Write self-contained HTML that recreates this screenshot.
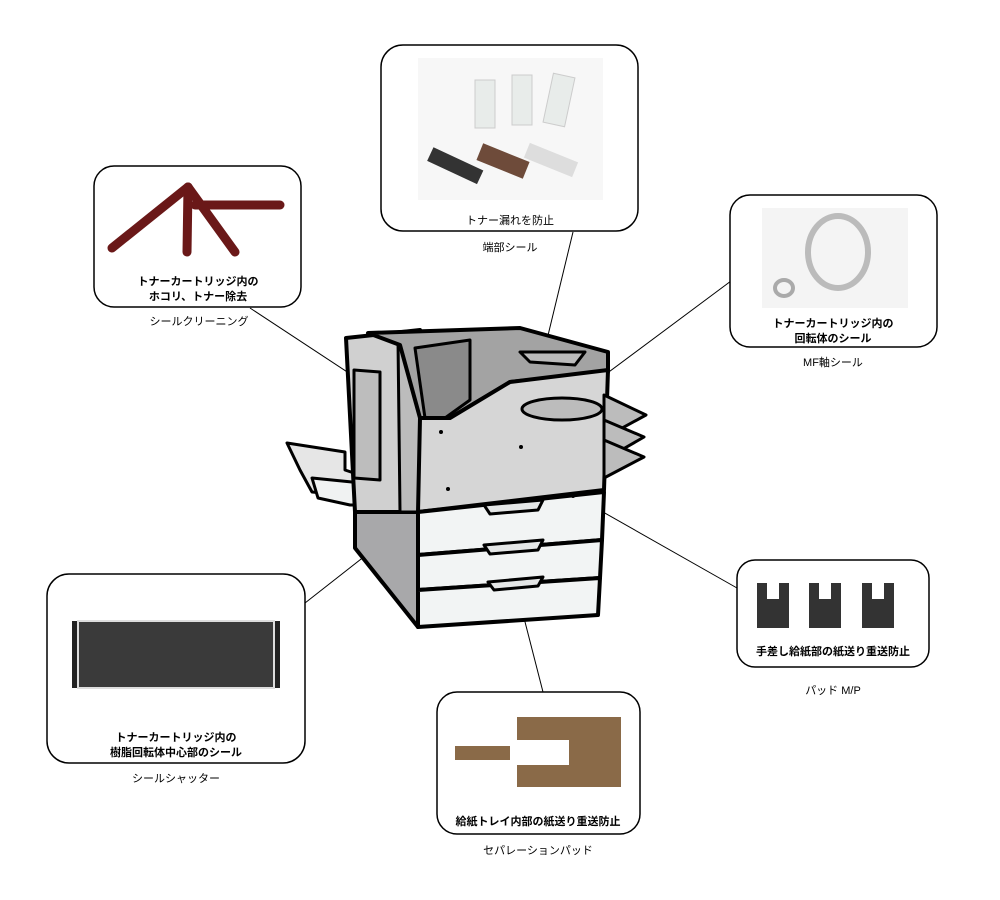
<!DOCTYPE html>
<html><head><meta charset="utf-8"><style>
html,body{margin:0;padding:0;background:#fff;}
svg{display:block;font-family:"Liberation Sans","Noto Sans CJK JP",sans-serif;}
.b{font-size:11px;font-weight:bold;fill:#000;text-anchor:middle;}
.l{font-size:11px;fill:#000;text-anchor:middle;}
</style></head><body>
<svg width="1000" height="900" viewBox="0 0 1000 900" xmlns="http://www.w3.org/2000/svg">
<!-- connectors -->
<g stroke="#000" stroke-width="1" fill="none">
<line x1="250" y1="308" x2="440" y2="433"/>
<line x1="573" y1="232" x2="521" y2="447"/>
<line x1="731" y1="281" x2="547" y2="418"/>
<line x1="305" y1="603" x2="449" y2="490"/>
<line x1="737" y1="588" x2="573" y2="495"/>
<line x1="543" y1="692" x2="514" y2="579"/>
</g>
<!-- printer -->
<g stroke="#000" stroke-width="4" stroke-linejoin="round">
<!-- base left side -->
<polygon points="355,500 418,505 418,627 355,548" fill="#a8a8aa"/>
<!-- left tray -->
<polygon points="287,443 345,452 345,470 360,475 372,482 372,497 345,495 312,492 300,470" fill="#e6e6e6" stroke-width="3"/>
<polygon points="312,478 372,484 390,505 350,505 318,498" fill="#f0f2f2" stroke-width="3"/>
<!-- left column -->
<polygon points="346,338 420,330 420,512 355,512" fill="#d0d0d0"/>
<polygon points="354,370 380,372 380,480 354,478" fill="#bdbdbd" stroke-width="3"/>
<polygon points="398,340 420,345 420,512 400,512" fill="#bcbcbc" stroke-width="3"/>
<!-- top cover -->
<polygon points="368,333 520,328 608,352 608,372 510,382 450,418 420,418 400,345" fill="#a3a3a3"/>
<polygon points="415,348 470,340 470,400 445,418 425,418" fill="#8a8a8a" stroke-width="3"/>
<polygon points="520,352 585,352 575,365 530,362" fill="#bbb" stroke-width="3"/>
<!-- front face -->
<polygon points="420,418 450,418 510,382 608,370 604,490 418,512" fill="#d6d6d6"/>
<ellipse cx="562" cy="409" rx="40" ry="11" fill="#bcbcbc" stroke-width="3"/>
<!-- right trays -->
<polygon points="604,395 646,415 604,438" fill="#bcbcbc" stroke-width="3"/>
<polygon points="604,420 644,437 604,460" fill="#bcbcbc" stroke-width="3"/>
<polygon points="604,440 644,457 604,478" fill="#bcbcbc" stroke-width="3"/>
<!-- drawers -->
<polygon points="418,512 604,492 602,540 418,555" fill="#f2f4f4"/>
<polygon points="418,555 602,540 600,578 418,590" fill="#f2f4f4"/>
<polygon points="418,590 600,578 598,615 418,627" fill="#f2f4f4"/>
<polygon points="484,505 543,500 538,510 490,514" fill="#e4e6e6" stroke-width="3"/>
<polygon points="484,545 543,540 538,550 490,554" fill="#e4e6e6" stroke-width="3"/>
<polygon points="488,582 543,577 538,586 494,590" fill="#e4e6e6" stroke-width="3"/>
</g>
<g fill="#000"><circle cx="441" cy="432" r="2"/><circle cx="521" cy="447" r="2"/><circle cx="448" cy="489" r="2"/><circle cx="573" cy="496" r="2"/></g>
<!-- boxes -->
<g fill="#fff" stroke="#000" stroke-width="1.5">
<rect x="94" y="166" width="207" height="141" rx="20"/>
<rect x="381" y="45" width="257" height="186" rx="22"/>
<rect x="730" y="195" width="207" height="152" rx="20"/>
<rect x="47" y="574" width="258" height="189" rx="22"/>
<rect x="737" y="560" width="192" height="107" rx="18"/>
<rect x="437" y="692" width="203" height="142" rx="20"/>
</g>
<!-- photos -->
<g stroke="#6a1818" stroke-width="9" stroke-linecap="round">
<line x1="112" y1="248" x2="188" y2="187"/><line x1="188" y1="187" x2="235" y2="252"/>
<line x1="188" y1="187" x2="187" y2="252"/><line x1="195" y1="205" x2="280" y2="205"/>
</g>
<rect x="418" y="58" width="185" height="142" fill="#f7f7f7"/>
<g fill="#e8ecea" stroke="#ccc"><rect x="475" y="80" width="20" height="48"/><rect x="512" y="75" width="20" height="50"/><rect x="548" y="75" width="22" height="50" transform="rotate(12 559 100)"/></g>
<rect x="428" y="158" width="55" height="15" fill="#333" transform="rotate(25 455 165)"/>
<rect x="478" y="152" width="50" height="18" fill="#6e4b3a" transform="rotate(22 503 161)"/>
<rect x="525" y="152" width="52" height="16" fill="#ddd" transform="rotate(22 551 160)"/>
<rect x="762" y="208" width="146" height="100" fill="#f4f4f4"/>
<ellipse cx="838" cy="252" rx="30" ry="36" fill="none" stroke="#bbb" stroke-width="6"/>
<ellipse cx="784" cy="288" rx="9" ry="8" fill="none" stroke="#aaa" stroke-width="4"/>
<rect x="72" y="621" width="208" height="67" fill="#222"/>
<rect x="78" y="621" width="196" height="67" fill="#3a3a3a" stroke="#ddd" stroke-width="2"/>
<g fill="#333"><path d="M757,583 h32 v45 h-32 z M765,583 v14 h16 v-14z"/></g>
<g fill="#333"><rect x="757" y="583" width="32" height="45"/><rect x="809" y="583" width="32" height="45"/><rect x="862" y="583" width="32" height="45"/></g>
<g fill="#fff"><rect x="767" y="583" width="12" height="16"/><rect x="819" y="583" width="12" height="16"/><rect x="872" y="583" width="12" height="16"/></g>
<rect x="455" y="746" width="55" height="14" fill="#8a6a48"/>
<path d="M517,717 h104 v70 h-104 v-22 h52 v-25 h-52 z" fill="#8a6a48"/>
<!-- texts -->
<text class="b" x="198" y="285">トナーカートリッジ内の</text>
<text class="b" x="198" y="300">ホコリ、トナー除去</text>
<text class="l" x="199" y="325">シールクリーニング</text>
<text class="l" x="510" y="224">トナー漏れを防止</text>
<text class="l" x="510" y="251">端部シール</text>
<text class="b" x="833" y="327">トナーカートリッジ内の</text>
<text class="b" x="833" y="342">回転体のシール</text>
<text class="l" x="833" y="366">MF軸シール</text>
<text class="b" x="176" y="741">トナーカートリッジ内の</text>
<text class="b" x="176" y="756">樹脂回転体中心部のシール</text>
<text class="l" x="176" y="782">シールシャッター</text>
<text class="b" x="833" y="655">手差し給紙部の紙送り重送防止</text>
<text class="l" x="833" y="694">パッド M/P</text>
<text class="b" x="538" y="825">給紙トレイ内部の紙送り重送防止</text>
<text class="l" x="538" y="854">セパレーションパッド</text>
</svg>
</body></html>
